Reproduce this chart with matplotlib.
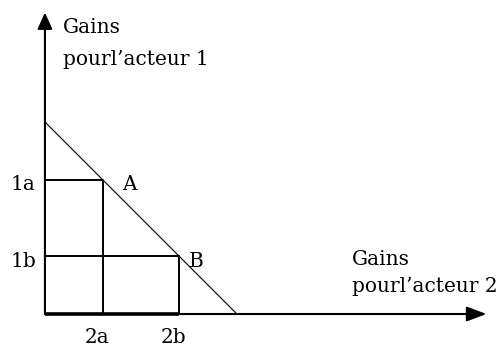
import matplotlib
matplotlib.use("Agg")
import matplotlib.pyplot as plt

# gains (arbitrary units)
gain1 = {'1a': 7, '1b': 3}      # acteur 1 (vertical)
gain2 = {'2a': 3, '2b': 7}      # acteur 2 (horizontal)
frontier_x = [0, 10]
frontier_y = [10, 0]
points = {'A': (3, 7), 'B': (7, 3)}

plt.rcParams['font.family'] = ['DejaVu Serif']

fig = plt.figure(figsize=(5.03, 3.48), dpi=100)
ax = fig.add_axes([0, 0, 1, 1])
ax.set_xlim(-2.34, 23.86)
ax.set_ylim(-1.77, 16.35)
ax.axis('off')

fs = 14.5

# axes with arrows
ax.annotate('', xy=(23.0, 0), xytext=(0, 0),
            arrowprops=dict(arrowstyle='-|>,head_length=1.2,head_width=0.45',
                            mutation_scale=10, lw=1.5, color='black',
                            shrinkA=0, shrinkB=0))
ax.annotate('', xy=(0, 15.7), xytext=(0, 0),
            arrowprops=dict(arrowstyle='-|>,head_length=1.0,head_width=0.45',
                            mutation_scale=10, lw=1.5, color='black',
                            shrinkA=0, shrinkB=0))

# frontier
ax.plot(frontier_x, frontier_y, color='black', lw=0.8)

# rectangles for A and B
xa, ya = points['A']
xb, yb = points['B']
ax.plot([0, xa, xa], [ya, ya, 0], color='black', lw=1.4)
ax.plot([0, xb, xb], [yb, yb, 0], color='black', lw=1.4)
ax.plot([0, xb], [0, 0], color='black', lw=2.6, solid_capstyle='butt')

# labels
for name, v in gain1.items():
    ax.text(-1.78, v - 0.54, name, fontsize=fs, va='baseline', ha='left')
for name, v in gain2.items():
    ax.text(v - 0.3, -1.5, name, fontsize=fs, va='baseline', ha='center')
ax.text(xa + 1.0, ya - 0.54, 'A', fontsize=fs, va='baseline', ha='left')
ax.text(xb + 0.5, yb - 0.55, 'B', fontsize=fs, va='baseline', ha='left')

ax.text(0.94, 14.64, 'Gains', fontsize=fs, va='baseline', ha='left')
ax.text(0.94, 12.97, 'pourl\u2019acteur 1', fontsize=fs, va='baseline', ha='left')
ax.text(15.99, 2.55, 'Gains', fontsize=fs, va='baseline', ha='left')
ax.text(15.99, 1.15, 'pourl\u2019acteur 2', fontsize=fs, va='baseline', ha='left')

fig.savefig('out.png', dpi=100)
